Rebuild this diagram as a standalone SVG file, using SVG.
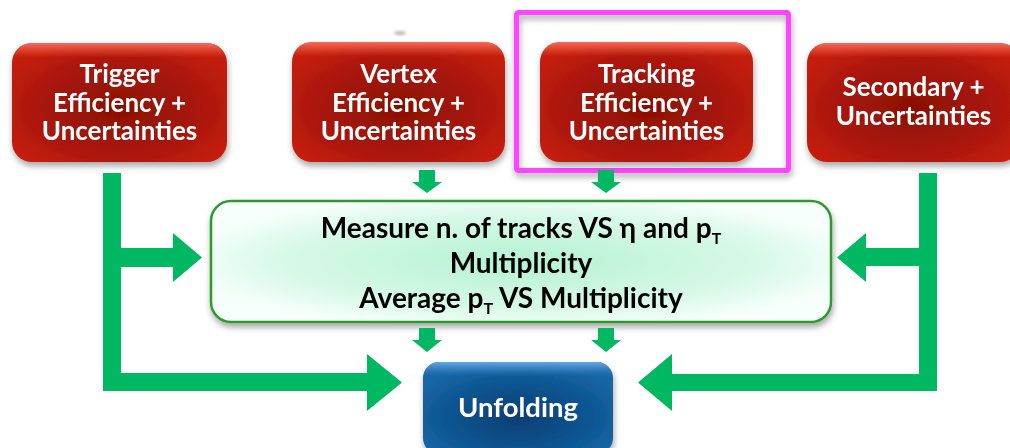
<svg xmlns="http://www.w3.org/2000/svg" width="1010" height="448" viewBox="0 0 1010 448">
  <defs>
    <radialGradient id="redFill" cx="0.5" cy="0.55" r="0.6">
      <stop offset="0" stop-color="#8a1004"/>
      <stop offset="0.6" stop-color="#a8160a"/>
      <stop offset="1" stop-color="#c41e0c"/>
    </radialGradient>
    <linearGradient id="redGloss" x1="0" y1="0" x2="0" y2="1">
      <stop offset="0" stop-color="#ff7a66" stop-opacity="0.85"/>
      <stop offset="0.12" stop-color="#ff6650" stop-opacity="0"/>
      <stop offset="1" stop-color="#ff6650" stop-opacity="0"/>
    </linearGradient>
    <radialGradient id="greenFill" cx="0.5" cy="0.5" r="0.55">
      <stop offset="0" stop-color="#b4f2d2"/>
      <stop offset="0.7" stop-color="#d8f9e8"/>
      <stop offset="1" stop-color="#f6fffb"/>
    </radialGradient>
    <radialGradient id="blueFill" cx="0.5" cy="0.6" r="0.6">
      <stop offset="0" stop-color="#073f73"/>
      <stop offset="0.6" stop-color="#0c5490"/>
      <stop offset="1" stop-color="#1866a6"/>
    </radialGradient>
    <linearGradient id="blueGloss" x1="0" y1="0" x2="0" y2="1">
      <stop offset="0" stop-color="#6ab0e8" stop-opacity="0.9"/>
      <stop offset="0.15" stop-color="#4a90d0" stop-opacity="0"/>
      <stop offset="1" stop-color="#4a90d0" stop-opacity="0"/>
    </linearGradient>
    <filter id="shadow" x="-10%" y="-10%" width="130%" height="140%">
      <feDropShadow dx="1" dy="4" stdDeviation="3" flood-color="#000" flood-opacity="0.35"/>
    </filter>
    <filter id="smudge" x="-50%" y="-50%" width="200%" height="200%">
      <feGaussianBlur stdDeviation="1.5"/>
    </filter>
  </defs>
  <style>
    .red { fill: url(#redFill); }
    .redgloss { fill: url(#redGloss); }
    .wt { font-family: Lato, "Open Sans", "DejaVu Sans", sans-serif; font-weight: bold; font-size: 26px; fill: #ffffff; text-anchor: middle; }
    .bt { font-family: Lato, "Open Sans", "DejaVu Sans", sans-serif; font-weight: bold; font-size: 28px; fill: #000000; text-anchor: middle; }
    .sub { font-size: 16px; }
    .conn { fill: #00b862; }
  </style>

  <rect width="1010" height="448" fill="#ffffff"/>

  <!-- small grey mark above the vertex box -->
  <ellipse cx="400" cy="33" rx="6" ry="2" fill="#999" opacity="0.7" filter="url(#smudge)"/>

  <!-- highlight frame around the tracking box -->
  <g id="highlight">
    <rect x="516.5" y="12.5" width="272" height="158" rx="2" fill="none" stroke="#ff44ff" stroke-width="5" filter="url(#shadow)"/>
  </g>

  <g id="trigger" filter="url(#shadow)">
    <rect x="12" y="43" width="215" height="119" rx="20" class="red"/>
    <rect x="12" y="43" width="215" height="119" rx="20" class="redgloss"/>
    <text class="wt" x="119.5" y="83">Trigger</text>
    <text class="wt" x="119.5" y="112">Efficiency +</text>
    <text class="wt" x="119.5" y="140">Uncertainties</text>
  </g>

  <g id="vertex" filter="url(#shadow)">
    <rect x="292" y="42" width="213" height="120" rx="20" class="red"/>
    <rect x="292" y="42" width="213" height="120" rx="20" class="redgloss"/>
    <text class="wt" x="398.5" y="83">Vertex</text>
    <text class="wt" x="398.5" y="112">Efficiency +</text>
    <text class="wt" x="398.5" y="140">Uncertainties</text>
  </g>

  <g id="tracking" filter="url(#shadow)">
    <rect x="540" y="42" width="213" height="120" rx="20" class="red"/>
    <rect x="540" y="42" width="213" height="120" rx="20" class="redgloss"/>
    <text class="wt" x="646.5" y="83">Tracking</text>
    <text class="wt" x="646.5" y="112">Efficiency +</text>
    <text class="wt" x="646.5" y="140">Uncertainties</text>
  </g>

  <g id="secondary" filter="url(#shadow)">
    <rect x="807" y="43" width="213" height="119" rx="20" class="red"/>
    <rect x="807" y="43" width="213" height="119" rx="20" class="redgloss"/>
    <text class="wt" x="913.5" y="96">Secondary +</text>
    <text class="wt" x="913.5" y="125">Uncertainties</text>
  </g>

  <g id="measure" filter="url(#shadow)">
    <rect x="211" y="201" width="620" height="121" rx="20" fill="url(#greenFill)" stroke="#2e9a2e" stroke-width="2.5"/>
    <text class="bt" x="521" y="238">Measure n. of tracks VS η and p<tspan class="sub" dy="6">T</tspan></text>
    <text class="bt" x="521" y="273">Multiplicity</text>
    <text class="bt" x="521" y="308">Average p<tspan class="sub" dy="6">T</tspan><tspan dy="-6"> VS Multiplicity</tspan></text>
  </g>

  <g id="unfolding" filter="url(#shadow)">
    <rect x="423" y="362" width="190" height="92" rx="16" fill="url(#blueFill)"/>
    <rect x="423" y="362" width="190" height="92" rx="16" fill="url(#blueGloss)"/>
    <text class="wt" x="518" y="417" style="font-size:27.5px">Unfolding</text>
  </g>

  <g id="connectors" class="conn">
    <!-- trigger: to measurement and to unfolding -->
    <path d="M103,173 H121 V248 H173 V233 L202,257.5 L173,282 V267 H121 V373 H367 V354 L402,382.5 L367,411 V391 H103 Z"/>
    <!-- secondary: to measurement and to unfolding -->
    <path d="M919,173 H937 V391 H672 V411 L638,382.5 L672,354 V374 H919 V266 H866 V282 L837,257.5 L866,233 V248 H919 Z"/>
    <!-- vertex and tracking down into measurement -->
    <path d="M419,170 H435 V182 H442 L427,193 L412,182 H419 Z"/>
    <path d="M598,170 H614 V182 H621 L606,193 L591,182 H598 Z"/>
    <!-- measurement down into unfolding -->
    <path d="M419,328 H435 V340 H442 L427,352 L412,340 H419 Z"/>
    <path d="M598,328 H614 V340 H621 L606,352 L591,340 H598 Z"/>
  </g>
</svg>
